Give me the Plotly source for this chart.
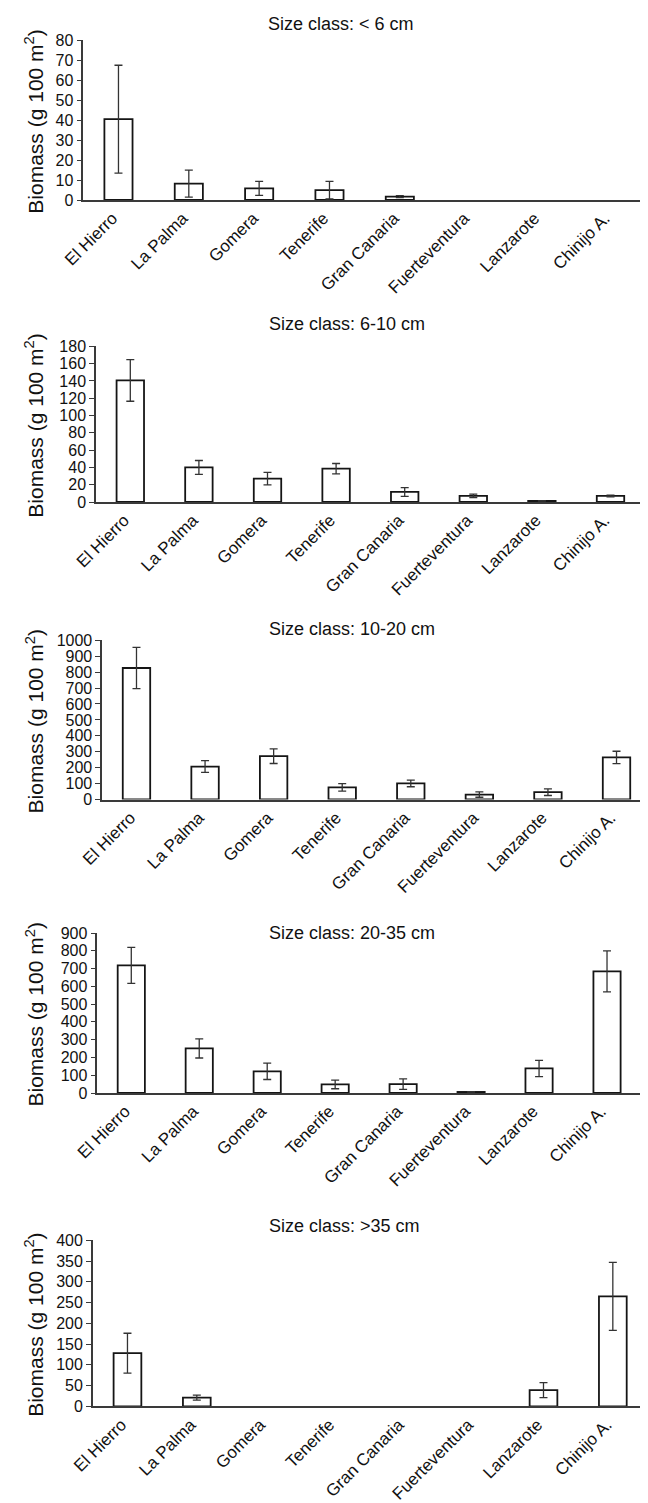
import plotly.graph_objects as go

islands = ["El Hierro", "La Palma", "Gomera", "Tenerife", "Gran Canaria",
           "Fuerteventura", "Lanzarote", "Chinijo A."]

titles = ["Size class: < 6 cm", "Size class: 6-10 cm", "Size class: 10-20 cm",
          "Size class: 20-35 cm", "Size class: >35 cm"]

biomass_lt6 = [40.5, 8.2, 5.8, 4.9, 1.7, 0, 0, 0]
err_lt6 = [27, 6.8, 3.5, 4.4, 0.5, 0, 0, 0]

biomass_6_10 = [140.5, 40, 27, 38.5, 11.6, 7, 1.3, 7]
err_6_10 = [24, 8, 7.3, 6, 5, 2, 0.3, 1]

biomass_10_20 = [826, 207, 272, 76, 101, 31, 46, 264]
err_10_20 = [129, 37, 46, 24, 21, 17, 21, 39]

biomass_20_35 = [718, 251, 122, 48, 50, 6, 138, 684]
err_20_35 = [101, 54, 46, 24, 30, 1, 46, 115]

biomass_gt35 = [128, 21, 0, 0, 0, 0, 39, 265]
err_gt35 = [48, 6, 0, 0, 0, 0, 18, 82]

y_max = [80, 180, 1000, 900, 400]
y_step = [10, 20, 100, 100, 50]

series = [(biomass_lt6, err_lt6), (biomass_6_10, err_6_10),
          (biomass_10_20, err_10_20), (biomass_20_35, err_20_35),
          (biomass_gt35, err_gt35)]

W, H = 648, 1503
# pixel geometry of each panel: x0, x1, y_top (max tick), y_bottom (zero)
geom = [(75.3, 638.0, 32.3, 192.0),
        (88.0, 636.8, 338.3, 494.0),
        (94.2, 642.8, 632.3, 791.5),
        (89.3, 633.0, 925.0, 1085.0),
        (84.8, 639.5, 1232.3, 1398.3)]
title_pos = [(333, 16), (339, 316), (344, 620.7), (344, 925), (336, 1218)]

FONT = "Liberation Sans, Arial, Helvetica, sans-serif"
AXC = "#3a3a3a"

fig = go.Figure()
annotations = []
for i, ((vals, errs), (x0, x1, yt, yb)) in enumerate(zip(series, geom)):
    n = "" if i == 0 else str(i + 1)
    shown = [v if v > 0 else None for v in vals]
    fig.add_trace(go.Bar(
        x=islands, y=shown, width=0.4,
        xaxis="x" + n, yaxis="y" + n,
        marker=dict(color="white", line=dict(color="#151515", width=1.8)),
        error_y=dict(type="data", array=errs, visible=True,
                     color="#333333", thickness=1.3, width=4),
        showlegend=False, hoverinfo="x+y",
    ))
    xd = [x0 / W, x1 / W]
    yd = [(H - yb) / H, (H - yt) / H]
    fig.layout["xaxis" + n] = dict(
        domain=xd, anchor="y" + n, type="category",
        range=[-0.5, 7.5], showline=True, linecolor=AXC, linewidth=1.5,
        ticks="", tickangle=-45, showgrid=False, zeroline=False,
        ticklabelshift=-6, automargin=False,
        tickfont=dict(family=FONT, size=17, color="#111111"),
    )
    fig.layout["yaxis" + n] = dict(
        domain=yd, anchor="x" + n, range=[0, y_max[i]],
        dtick=y_step[i], tick0=0, showline=True, linecolor=AXC, linewidth=1.5,
        ticks="outside", ticklen=5, tickwidth=1.2, tickcolor=AXC,
        showgrid=False, zeroline=False, automargin=False,
        tickfont=dict(family=FONT, size=16, color="#111111"),
    )
    tx, ty = title_pos[i]
    annotations.append(dict(
        text=titles[i], x=tx / W, y=(H - ty) / H, xref="paper", yref="paper",
        xanchor="center", yanchor="middle", showarrow=False,
        font=dict(family=FONT, size=18, color="#111111"),
    ))
    annotations.append(dict(
        text="Biomass (g 100 m<sup>2</sup>)", textangle=-90,
        x=26.5 / W, y=(H - ((yt + yb) / 2 + 2)) / H,
        xref="paper", yref="paper", xanchor="center", yanchor="middle",
        showarrow=False, font=dict(family=FONT, size=21, color="#111111"),
    ))

fig.update_layout(
    width=W, height=H, margin=dict(l=0, r=0, t=0, b=0, autoexpand=False),
    paper_bgcolor="white", plot_bgcolor="white",
    annotations=annotations, bargap=0.6,
)
fig.write_html("out.html")
